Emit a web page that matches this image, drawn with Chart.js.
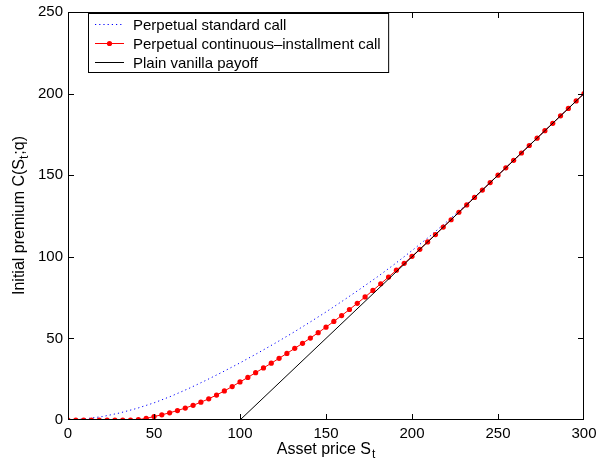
<!DOCTYPE html>
<html>
<head>
<meta charset="utf-8">
<script src="https://cdn.jsdelivr.net/npm/chart.js@4.4.1/dist/chart.umd.min.js"></script>
<style>
  html, body { margin: 0; padding: 0; background: #fff; overflow: hidden; }
  canvas { display: block; }
</style>
</head>
<body>
<canvas id="premiumChart" width="596" height="461"></canvas>
<script>
// Asset price grid used by the installment call (67 points, 0..300)
const assetGrid = [
  0, 4.55, 9.09, 13.64, 18.18, 22.73, 27.27, 31.82, 36.36, 40.91,
  45.45, 50, 54.55, 59.09, 63.64, 68.18, 72.73, 77.27, 81.82, 86.36,
  90.91, 95.45, 100, 104.55, 109.09, 113.64, 118.18, 122.73, 127.27, 131.82,
  136.36, 140.91, 145.45, 150, 154.55, 159.09, 163.64, 168.18, 172.73, 177.27,
  181.82, 186.36, 190.91, 195.45, 200, 204.55, 209.09, 213.64, 218.18, 222.73,
  227.27, 231.82, 236.36, 240.91, 245.45, 250, 254.55, 259.09, 263.64, 268.18,
  272.73, 277.27, 281.82, 286.36, 290.91, 295.45, 300
];
// Perpetual continuous-installment call premium
const installmentPremium = [
  0, 0, 0, 0, 0, 0, 0, 0, 0, 0.2,
  1.0, 2.1, 3.2, 4.4, 5.8, 7.3, 9.0, 10.9, 13.0, 15.3,
  17.8, 20.5, 23.3, 26.1, 29.0, 31.9, 34.8, 37.8, 40.8, 43.9,
  47.0, 50.2, 53.5, 56.9, 60.4, 64.0, 67.7, 71.5, 75.4, 79.4,
  83.5, 87.6, 91.8, 96.0, 100.3, 104.6, 109.1, 113.6, 118.2, 122.7,
  127.3, 131.8, 136.4, 140.9, 145.5, 150, 154.5, 159.1, 163.6, 168.2,
  172.7, 177.3, 181.8, 186.4, 190.9, 195.5, 200
];
// Perpetual standard call premium
const standardS = [
  0, 10, 20, 30, 40, 50, 60, 70, 80, 90, 100, 110, 120, 130, 140, 150,
  160, 170, 180, 190, 200, 210, 220, 230, 240, 250, 260, 270, 280, 290, 300
];
const standardPremium = [
  0, 0.7, 2.1, 4.3, 7.1, 10.5, 14.6, 19.2, 24.2, 29.5, 35.0, 40.8, 46.8, 53.0, 59.5, 66.2,
  73.2, 80.4, 87.8, 95.6, 103.8, 112.3, 121.3, 130.5, 140.1, 150, 160, 170, 180, 190, 200
];
// Plain vanilla payoff (strike 100)
const payoffS = [0, 100, 300];
const payoffValue = [0, 0, 200];

const xTicks = [0, 50, 100, 150, 200, 250, 300];
const yTicks = [0, 50, 100, 150, 200, 250];

const FONT = '"Liberation Sans", Arial, Helvetica, sans-serif';

function toPoints(xs, ys) {
  return xs.map((v, i) => ({ x: v, y: ys[i] }));
}

const datasets = [{
  label: 'Perpetual standard call',
  data: toPoints(standardS, standardPremium),
  borderColor: 'rgb(0,0,255)',
  borderWidth: 1,
  borderDash: [1.2, 3],
  pointRadius: 0,
  order: 3
}, {
  label: 'Perpetual continuous\u2013installment call',
  data: toPoints(assetGrid, installmentPremium),
  borderColor: 'rgb(255,0,0)',
  borderWidth: 1,
  pointRadius: 2.6,
  pointBackgroundColor: 'rgb(255,0,0)',
  pointBorderWidth: 0,
  order: 2
}, {
  label: 'Plain vanilla payoff',
  data: toPoints(payoffS, payoffValue),
  borderColor: '#000',
  borderWidth: 1,
  pointRadius: 0,
  order: 1
}];

// box, inward ticks, axis titles with subscripts, legend
const decorations = {
  id: 'decorations',
  afterDraw(chart) {
    const { ctx, scales: { x, y } } = chart;
    ctx.save();
    ctx.fillStyle = '#000';
    // frame drawn as 1px rectangles
    const L = Math.round(x.getPixelForValue(0));
    const R = Math.round(x.getPixelForValue(300)) - 1;
    const T = Math.round(y.getPixelForValue(250));
    const B = Math.round(y.getPixelForValue(0)) - 1;
    ctx.fillRect(L, T, R - L + 1, 1);
    ctx.fillRect(L, B, R - L + 1, 1);
    ctx.fillRect(L, T, 1, B - T + 1);
    ctx.fillRect(R, T, 1, B - T + 1);
    xTicks.forEach(v => {
      const px = Math.min(Math.round(x.getPixelForValue(v)), R);
      ctx.fillRect(px, B - 5, 1, 5);
      ctx.fillRect(px, T + 1, 1, 5);
    });
    yTicks.forEach(v => {
      const py = Math.min(Math.round(y.getPixelForValue(v)), B);
      ctx.fillRect(L + 1, py, 5, 1);
      ctx.fillRect(R - 5, py, 5, 1);
    });

    ctx.textBaseline = 'alphabetic';
    ctx.textAlign = 'left';

    // x title: Asset price S_t
    ctx.font = '16px ' + FONT;
    const xMain = 'Asset price S';
    const wMain = ctx.measureText(xMain).width;
    ctx.font = '12px ' + FONT;
    const wSub = ctx.measureText('t').width;
    const sx = (L + R) / 2 - (wMain + wSub) / 2;
    ctx.font = '16px ' + FONT;
    ctx.fillText(xMain, sx, 454);
    ctx.font = '12px ' + FONT;
    ctx.fillText('t', sx + wMain + 1, 458);

    // y title: Initial premium C(S_t;q)
    ctx.save();
    ctx.translate(24, (T + B) / 2);
    ctx.rotate(-Math.PI / 2);
    const parts = [['Initial premium C(S', 16, 0], ['t', 12, 4], [';q)', 16, 0]];
    let total = 0;
    parts.forEach(p => { ctx.font = p[1] + 'px ' + FONT; total += ctx.measureText(p[0]).width + (p[1] === 12 ? 1 : 0); });
    let cx = -total / 2;
    parts.forEach(p => {
      ctx.font = p[1] + 'px ' + FONT;
      ctx.fillText(p[0], cx, p[2]);
      cx += ctx.measureText(p[0]).width + (p[1] === 12 ? 1 : 0);
    });
    ctx.restore();

    // legend
    ctx.font = '15px ' + FONT;
    const lx = 88.5, ly = 13.5, rowH = 19;
    const textX = 133;
    let maxW = 0;
    datasets.forEach(d => { maxW = Math.max(maxW, ctx.measureText(d.label).width); });
    const boxW = textX + maxW + 8 - lx;
    const boxH = 59;
    ctx.fillStyle = '#fff';
    ctx.fillRect(lx, ly, boxW, boxH);
    ctx.strokeStyle = '#000';
    ctx.lineWidth = 1;
    ctx.setLineDash([]);
    ctx.strokeRect(lx, ly, boxW, boxH);
    datasets.forEach((d, i) => {
      const cy = 24 + i * rowH + 0.5;
      ctx.strokeStyle = d.borderColor;
      ctx.lineWidth = d.borderWidth;
      ctx.setLineDash(d.borderDash || []);
      ctx.beginPath();
      ctx.moveTo(95, cy); ctx.lineTo(124, cy);
      ctx.stroke();
      ctx.setLineDash([]);
      if (d.pointRadius) {
        ctx.fillStyle = d.pointBackgroundColor;
        ctx.beginPath();
        ctx.arc(109.5, cy, d.pointRadius, 0, Math.PI * 2);
        ctx.fill();
      }
      ctx.fillStyle = '#000';
      ctx.fillText(d.label, textX, cy + 5);
    });
    ctx.restore();
  }
};

new Chart(document.getElementById('premiumChart').getContext('2d'), {
  type: 'line',
  data: { datasets: datasets },
  options: {
    responsive: false,
    animation: false,
    devicePixelRatio: 1,
    layout: { padding: { left: 0, top: 12, right: 12, bottom: 0 } },
    plugins: { legend: { display: false }, tooltip: { enabled: false } },
    scales: {
      x: {
        type: 'linear',
        min: 0, max: 300,
        afterBuildTicks: s => { s.ticks = xTicks.map(v => ({ value: v })); },
        afterFit: s => { s.height = 41; s.paddingLeft = 0; s.paddingRight = 0; },
        grid: { display: false, drawTicks: false },
        border: { display: false },
        ticks: { color: '#000', font: { family: FONT, size: 15 }, padding: 5, maxRotation: 0 }
      },
      y: {
        type: 'linear',
        min: 0, max: 250,
        afterBuildTicks: s => { s.ticks = yTicks.map(v => ({ value: v })); },
        afterFit: s => { s.width = 68; s.paddingTop = 0; s.paddingBottom = 0; },
        grid: { display: false, drawTicks: false },
        border: { display: false },
        ticks: { color: '#000', font: { family: FONT, size: 15 }, padding: 5 }
      }
    }
  },
  plugins: [decorations]
});
</script>
</body>
</html>
